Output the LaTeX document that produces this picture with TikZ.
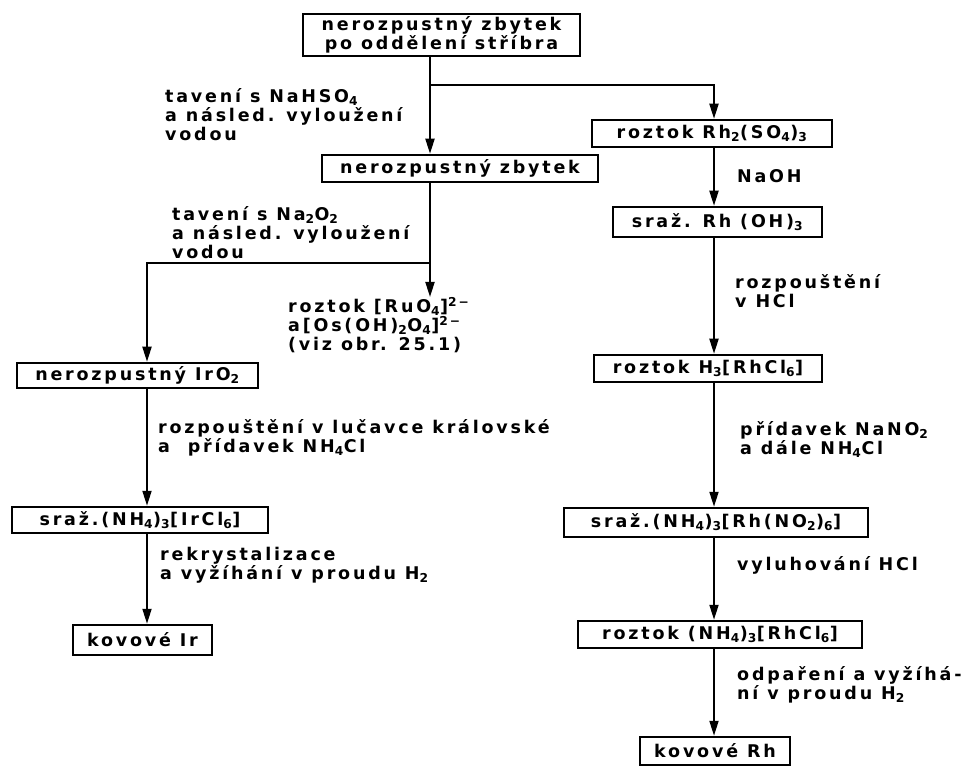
\documentclass[tikz,border=0pt]{standalone}
\usepackage{fontspec}
\setmainfont[LetterSpace=16,UprightFont={DejaVu Sans Bold}]{DejaVu Sans}
\usetikzlibrary{arrows.meta}
\newcommand\sub[1]{\textsubscript{#1}}
\newcommand\spr[1]{\textsuperscript{#1}}
\newcommand\tstrut{\rule{0pt}{15pt}}
\begin{document}
\begin{tikzpicture}[x=1pt,y=-1pt,
  every node/.style={font=\fontsize{17.5}{19}\selectfont},
  box/.style={draw, line width=2.5pt, inner sep=0pt, align=center},
  lbl/.style={anchor=north west, inner sep=0pt, align=left},
  arr/.style={line width=1.9pt, -{Triangle[length=15pt,width=9pt]}},
  ln/.style={line width=1.9pt}]
\useasboundingbox[fill=white] (0,0) rectangle (970,767);
% column coordinates
\coordinate (cT) at (430,0);
\coordinate (cL) at (147,0);
\coordinate (cR) at (714,0);
\coordinate (b1) at (430,85);
\coordinate (b2) at (430,263);
% boxes
\node[box, minimum width=277, minimum height=42] (top) at (441.5,35) {nerozpustný zbytek\\po oddělení stříbra};
\node[box, minimum width=276, minimum height=27] (zb) at (460,168.5) {nerozpustný zbytek};
\node[box, minimum width=240, minimum height=27] (rh2) at (712,133.5) {roztok Rh\sub2(SO\sub4)\sub3};
\node[box, minimum width=209, minimum height=30] (rhoh) at (717.5,222) {sraž. Rh (OH)\sub3};
\node[box, minimum width=241, minimum height=25] (iro) at (137.5,375.5) {nerozpustný IrO\sub2};
\node[box, minimum width=256, minimum height=26] (ircl) at (140,520) {sraž.(NH\sub4)\sub3[IrCl\sub6]};
\node[box, minimum width=139, minimum height=30] (ir) at (142.5,640) {kovové Ir};
\node[box, minimum width=228, minimum height=27] (h3) at (708,368.5) {roztok H\sub3[RhCl\sub6]};
\node[box, minimum width=304, minimum height=29] (no2) at (716,522.5) {sraž.(NH\sub4)\sub3[Rh(NO\sub2)\sub6]};
\node[box, minimum width=284, minimum height=27] (rhcl) at (720,634.5) {roztok (NH\sub4)\sub3[RhCl\sub6]};
\node[box, minimum width=150, minimum height=28] (rh) at (715,751) {kovové Rh};
% labels
\node[lbl] (l1) at (165,87) {\tstrut tavení s NaHSO\sub4\\a násled. vyloužení\\vodou};
\node[lbl] (l2) at (172,205) {\tstrut tavení s Na\sub2O\sub2\\a násled. vyloužení\\vodou};
\node[lbl] (ru) at (288,297) {\tstrut roztok [RuO\sub4]\spr{2−}\\a[Os(OH)\sub2O\sub4]\spr{2−}\\(viz obr. 25.1)};
\node[lbl] (l3) at (158,418) {\tstrut rozpouštění v lučavce královské\\a~ přídavek NH\sub4Cl};
\node[lbl] (l4) at (160,545) {\tstrut rekrystalizace\\a vyžíhání v proudu H\sub2};
\node[lbl] (r1) at (737,167) {\tstrut NaOH};
\node[lbl] (r2) at (735,273) {\tstrut rozpouštění\\v HCl};
\node[lbl] (r3) at (740,420) {\tstrut přídavek NaNO\sub2\\a dále NH\sub4Cl};
\node[lbl] (r4) at (737,555) {\tstrut vyluhování HCl};
\node[lbl] (r5) at (737,665) {\tstrut odpaření a vyžíhá-\\ní v proudu H\sub2};
% connectors
\draw[arr] (top.south -| cT) -- (zb.north -| cT);
\draw[arr] (b1) -| (rh2.north -| cR);
\draw[arr] (zb.south -| cT) -- (ru.north -| cT);
\draw[arr] (b2) -| (iro.north -| cL);
\draw[arr] (iro.south -| cL) -- (ircl.north -| cL);
\draw[arr] (ircl.south -| cL) -- (ir.north -| cL);
\draw[arr] (rh2.south -| cR) -- (rhoh.north -| cR);
\draw[arr] (rhoh.south -| cR) -- (h3.north -| cR);
\draw[arr] (h3.south -| cR) -- (no2.north -| cR);
\draw[arr] (no2.south -| cR) -- (rhcl.north -| cR);
\draw[arr] (rhcl.south -| cR) -- (rh.north -| cR);
\end{tikzpicture}
\end{document}
